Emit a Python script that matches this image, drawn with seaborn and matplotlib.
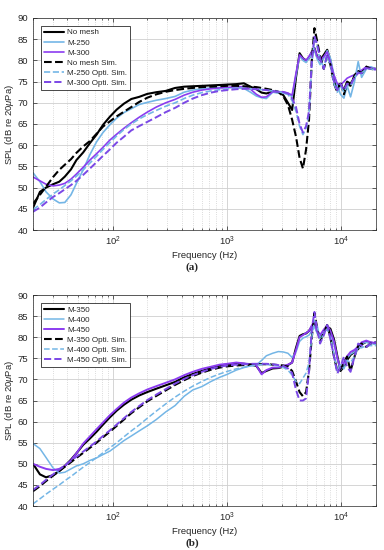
import numpy as np
import matplotlib
matplotlib.use("Agg")
import matplotlib.pyplot as plt
import seaborn as sns
from matplotlib.ticker import LogLocator, NullFormatter, FixedLocator

# frequency grid (Hz) shared by all curves
freq = [20, 23, 26, 30, 34, 38, 43, 48, 55, 63,
        72, 82, 94, 108, 125, 145, 170, 200, 240, 290,
        350, 420, 500, 600, 720, 860, 1000, 1200, 1400, 1600,
        1800, 2000, 2200, 2500, 2800, 3100, 3400, 3700, 4000, 4300,
        4600, 4900, 5200, 5500, 5800, 6100, 6500, 7000, 7500, 8000,
        8600, 9200, 9800, 10500, 11200, 12000, 13000, 14000, 15000, 16500,
        18000, 20000]

# panel (a)
nomesh_a = [45.2, 49.0, 50.0, 50.8, 51.4, 52.6, 54.3, 56.5, 58.3, 60.5,
            62.5, 64.8, 66.7, 68.4, 69.8, 70.9, 71.4, 72.1, 72.5, 72.8,
            73.5, 73.8, 73.9, 74.0, 74.1, 74.2, 74.3, 74.4, 74.6, 73.8,
            73.2, 72.4, 72.2, 72.6, 72.5, 71.8, 70.0, 68.3, 76.0, 81.7,
            80.5, 80.0, 80.5, 82.0, 82.9, 81.0, 80.0, 81.3, 82.5, 80.0,
            75.4, 73.8, 74.5, 73.0, 75.0, 74.5, 76.0, 77.5, 77.0, 78.5,
            78.2, 78.0]
m250_a = [53.5, 51.4, 49.0, 47.3, 46.4, 46.5, 48.3, 51.0, 54.2, 57.8,
          60.8, 63.0, 64.8, 66.4, 67.7, 68.6, 69.6, 70.1, 70.6, 71.0,
          71.5, 72.5, 73.0, 73.3, 73.5, 73.6, 73.6, 73.5, 73.4, 72.5,
          71.6, 71.2, 71.0, 72.5, 72.3, 72.3, 72.0, 71.5, 76.5, 81.0,
          80.0, 79.5, 80.5, 81.5, 82.5, 80.5, 79.0, 80.5, 82.3, 80.5,
          76.5, 74.0, 72.0, 71.1, 74.0, 71.4, 75.0, 79.7, 76.0, 78.0,
          78.5, 78.0]
m300_a = [52.5, 51.6, 50.8, 50.4, 50.6, 51.0, 52.0, 53.2, 54.8, 56.5,
          58.0, 59.5, 61.2, 62.6, 64.0, 65.3, 66.6, 67.8, 69.0, 70.0,
          70.8, 71.8, 72.5, 73.0, 73.3, 73.5, 73.6, 73.8, 73.8, 73.2,
          72.0, 71.3, 71.4, 72.6, 72.6, 72.6, 72.3, 71.8, 77.0, 81.3,
          80.5, 80.0, 81.0, 82.0, 82.9, 81.0, 80.0, 80.9, 82.0, 79.5,
          76.5, 74.5, 74.2, 75.0, 75.8, 76.2, 76.6, 77.2, 77.7, 78.5,
          78.2, 78.0]
nomesh_sim_a = [46.2, 48.3, 50.2, 52.5, 54.2, 55.4, 56.7, 58.2, 59.7, 61.0,
                62.7, 64.4, 65.6, 66.8, 67.9, 69.0, 70.2, 71.2, 72.0, 72.6,
                73.0, 73.3, 73.5, 73.7, 73.8, 73.9, 74.0, 74.0, 73.9, 73.8,
                73.7, 73.5, 73.3, 73.0, 72.6, 71.5, 69.5, 66.0, 62.0, 57.0,
                54.5, 59.0, 66.0, 80.0, 87.6, 84.8, 81.0, 78.0, 81.0, 79.0,
                74.5, 72.5, 75.0, 72.0, 74.5, 74.0, 76.5, 77.5, 77.0, 78.5,
                78.0, 77.8]
m250_sim_a = [44.8, 46.0, 47.2, 48.5, 49.5, 50.5, 51.6, 52.7, 54.2, 55.8,
              57.4, 59.0, 60.6, 62.2, 63.7, 65.0, 66.2, 67.2, 68.2, 69.2,
              70.0, 71.0, 71.8, 72.4, 72.8, 73.1, 73.3, 73.4, 73.4, 73.3,
              73.2, 73.1, 73.0, 72.8, 72.6, 72.4, 72.0, 70.5, 68.0, 64.5,
              62.5, 64.0, 67.5, 79.0, 85.0, 83.5, 80.0, 78.5, 81.0, 79.0,
              74.5, 72.5, 74.0, 72.5, 74.0, 74.0, 76.0, 77.2, 77.0, 78.0,
              78.0, 77.8]
m300_sim_a = [44.3, 45.3, 46.5, 47.8, 48.7, 49.6, 50.6, 51.6, 53.0, 54.5,
              56.0, 57.5, 59.0, 60.6, 62.0, 63.5, 64.5, 65.5, 66.6, 67.8,
              68.8, 70.0, 71.0, 71.8, 72.4, 72.8, 73.0, 73.2, 73.3, 73.3,
              73.2, 73.1, 73.0, 72.8, 72.6, 72.5, 72.2, 71.0, 69.0, 65.0,
              63.0, 64.5, 68.0, 80.0, 85.6, 84.0, 80.5, 78.0, 81.5, 79.5,
              75.0, 73.0, 74.5, 73.0, 74.5, 74.2, 76.0, 77.0, 77.0, 78.2,
              78.0, 77.8]

# panel (b)
m350_b = [50.0, 47.5, 46.8, 47.3, 48.3, 49.5, 51.0, 52.5, 54.5, 56.0,
          57.6, 59.3, 61.0, 62.6, 64.0, 65.2, 66.2, 67.0, 67.8, 68.6,
          69.4, 70.5, 71.3, 72.0, 72.7, 73.3, 73.5, 73.8, 73.7, 73.5,
          73.2, 71.5, 72.0, 72.6, 72.7, 73.0, 73.4, 74.0, 77.5, 80.3,
          80.7, 80.9, 81.5, 82.5, 83.3, 81.5, 80.1, 81.5, 82.5, 82.0,
          79.5, 75.5, 72.0, 73.0, 74.6, 75.8, 76.5, 77.2, 78.3, 78.9,
          78.7, 78.5]
m400_b = [54.8, 53.6, 51.5, 49.0, 47.8, 48.0, 48.8, 49.5, 50.0, 50.8,
          51.4, 52.2, 53.0, 54.2, 55.5, 56.6, 57.8, 59.0, 60.5, 62.3,
          63.8, 66.0, 67.5, 68.3, 69.5, 70.5, 71.2, 72.2, 72.8, 73.2,
          73.4, 74.5, 75.6, 76.2, 76.6, 76.5, 76.2, 75.2, 76.5, 79.0,
          79.8, 80.1, 80.5, 81.5, 82.5, 81.0, 80.0, 81.5, 82.0, 81.0,
          78.5, 75.0, 72.3, 73.5, 75.0, 76.0, 76.5, 77.5, 78.5, 78.8,
          78.5, 78.3]
m450_b = [50.0, 49.3, 48.8, 48.5, 48.8, 49.5, 50.8, 52.5, 54.8, 56.5,
          58.2, 59.8, 61.5, 63.0, 64.5, 65.7, 66.7, 67.6, 68.4, 69.2,
          70.0, 71.0, 71.8, 72.5, 73.0, 73.5, 73.7, 74.0, 73.8, 73.6,
          73.3, 71.2, 72.2, 72.8, 72.8, 73.2, 73.5, 74.0, 77.0, 80.0,
          80.5, 81.0, 81.5, 82.8, 83.8, 81.5, 80.5, 81.8, 82.8, 81.5,
          79.0, 75.0, 72.5, 74.0, 75.5, 76.5, 77.0, 77.8, 78.8, 79.2,
          78.8, 78.6]
m350_sim_b = [43.5, 44.7, 45.9, 47.2, 48.3, 49.3, 50.4, 51.4, 52.6, 53.8,
              55.0, 56.3, 57.6, 59.0, 60.5, 62.0, 63.4, 64.8, 66.1, 67.4,
              68.7, 69.8, 70.8, 71.6, 72.3, 72.8, 73.1, 73.3, 73.4, 73.5,
              73.6, 73.6, 73.6, 73.5, 73.4, 73.3, 73.0, 72.0, 69.5, 67.0,
              66.0, 67.0, 72.0, 80.0, 85.7, 82.5, 79.0, 81.0, 82.9, 80.0,
              75.4, 72.0, 72.5, 74.0, 75.4, 72.0, 75.4, 78.0, 78.5, 77.7,
              78.5, 78.9]
m400_sim_b = [40.5, 41.7, 42.8, 44.0, 45.0, 46.0, 47.0, 48.0, 49.2, 50.3,
              51.5, 52.6, 53.8, 55.0, 56.4, 57.8, 59.2, 60.8, 62.5, 64.2,
              65.8, 67.2, 68.4, 69.5, 70.5, 71.3, 71.9, 72.5, 72.9, 73.2,
              73.4, 73.5, 73.5, 73.4, 73.2, 72.8, 72.2, 71.0, 69.5, 69.0,
              70.3, 71.5, 74.0, 80.0, 84.0, 83.0, 79.5, 80.5, 82.0, 80.0,
              76.0, 72.0, 73.5, 72.5, 74.5, 74.0, 75.5, 77.5, 77.5, 78.0,
              78.0, 78.0]
m450_sim_b = [43.8, 45.0, 46.2, 47.5, 48.6, 49.6, 50.7, 51.7, 52.9, 54.1,
              55.3, 56.6, 57.9, 59.3, 60.8, 62.3, 63.7, 65.1, 66.4, 67.7,
              69.0, 70.1, 71.0, 71.8, 72.5, 73.0, 73.3, 73.5, 73.6, 73.7,
              73.7, 73.7, 73.7, 73.6, 73.4, 73.2, 72.6, 71.5, 67.5, 65.0,
              65.0, 65.5, 72.0, 82.0, 86.0, 82.0, 78.5, 80.5, 82.9, 79.5,
              75.4, 71.4, 73.0, 75.4, 73.0, 71.8, 75.4, 78.5, 78.0, 77.7,
              78.5, 78.9]

BLACK = "#000000"
BLUE = "#74b6e6"
PURPLE = "#8b3cf0"
PURPLE_D = "#7b48e6"

sns.set_style("ticks")
plt.rcParams["font.family"] = ["Liberation Sans", "DejaVu Sans"]
plt.rcParams["mathtext.fontset"] = "custom"
plt.rcParams["mathtext.rm"] = "Liberation Sans"
plt.rcParams["mathtext.it"] = "Liberation Sans:italic"

fig = plt.figure(figsize=(3.84, 5.5), dpi=100)
ax_a = fig.add_axes([0.0859, 0.5818, 0.893, 0.3855])
ax_b = fig.add_axes([0.0859, 0.080, 0.893, 0.3836])

panels = [
    (ax_a, [("No mesh", nomesh_a, BLACK, "-", 1.5),
            ("M-250", m250_a, BLUE, "-", 1.2),
            ("M-300", m300_a, PURPLE, "-", 1.2),
            ("No mesh Sim.", nomesh_sim_a, BLACK, "--", 1.5),
            ("M-250 Opti. Sim.", m250_sim_a, BLUE, "--", 1.2),
            ("M-300 Opti. Sim.", m300_sim_a, PURPLE_D, "--", 1.4)]),
    (ax_b, [("M-350", m350_b, BLACK, "-", 1.5),
            ("M-400", m400_b, BLUE, "-", 1.1),
            ("M-450", m450_b, PURPLE, "-", 1.4),
            ("M-350 Opti. Sim.", m350_sim_b, BLACK, "--", 1.5),
            ("M-400 Opti. Sim.", m400_sim_b, BLUE, "--", 1.1),
            ("M-450 Opti. Sim.", m450_sim_b, PURPLE_D, "--", 1.4)]),
]

for ax, series in panels:
    for label, vals, color, ls, lw in series:
        sns.lineplot(x=freq, y=vals, ax=ax, color=color, linestyle=ls,
                     linewidth=lw, label=label, estimator=None)
    ax.set_xscale("log")
    ax.set_xlim(20, 20000)
    ax.set_ylim(40, 90)
    ax.yaxis.set_major_locator(FixedLocator(np.arange(40, 91, 5)))
    ax.xaxis.set_major_locator(FixedLocator([100, 1000, 10000]))
    ax.xaxis.set_minor_locator(LogLocator(base=10, subs=np.arange(2, 10)))
    ax.xaxis.set_minor_formatter(NullFormatter())
    ax.set_xticklabels(["$10^2$", "$10^3$", "$10^4$"])
    ax.grid(which="major", color="#cfcfcf", linewidth=0.6)
    ax.grid(which="minor", axis="x", color="#cfcfcf", linestyle=":", linewidth=0.6)
    ax.set_axisbelow(True)
    ax.tick_params(which="both", direction="in", top=True, right=True,
                   labelsize=6.8, colors="#262626", width=0.5)
    ax.tick_params(which="major", length=3)
    ax.tick_params(which="minor", length=1.5)
    for sp in ax.spines.values():
        sp.set_visible(True)
        sp.set_linewidth(0.5)
        sp.set_color("#262626")
    ax.set_xlabel("Frequency (Hz)", fontsize=6.8, color="#262626", labelpad=2)
    ax.set_ylabel("SPL (dB re 20$\\mu$Pa)", fontsize=6.8, color="#262626", labelpad=1)
    leg = ax.legend(loc="upper left", bbox_to_anchor=(0, 1), fontsize=5.8,
                    borderaxespad=0.95, handlelength=2.5, handletextpad=0.4,
                    labelspacing=0.3, borderpad=0.4, fancybox=False,
                    framealpha=1, edgecolor="#000000")
    leg.get_frame().set_linewidth(0.5)

fig.text(0.5, 1 - 267 / 550, "(a)", ha="center", va="center", fontsize=8,
         fontweight="bold", family=["Liberation Serif", "DejaVu Serif"])
fig.text(0.5, 1 - 543 / 550, "(b)", ha="center", va="center", fontsize=8,
         fontweight="bold", family=["Liberation Serif", "DejaVu Serif"])

fig.savefig("out.png", dpi=100)
